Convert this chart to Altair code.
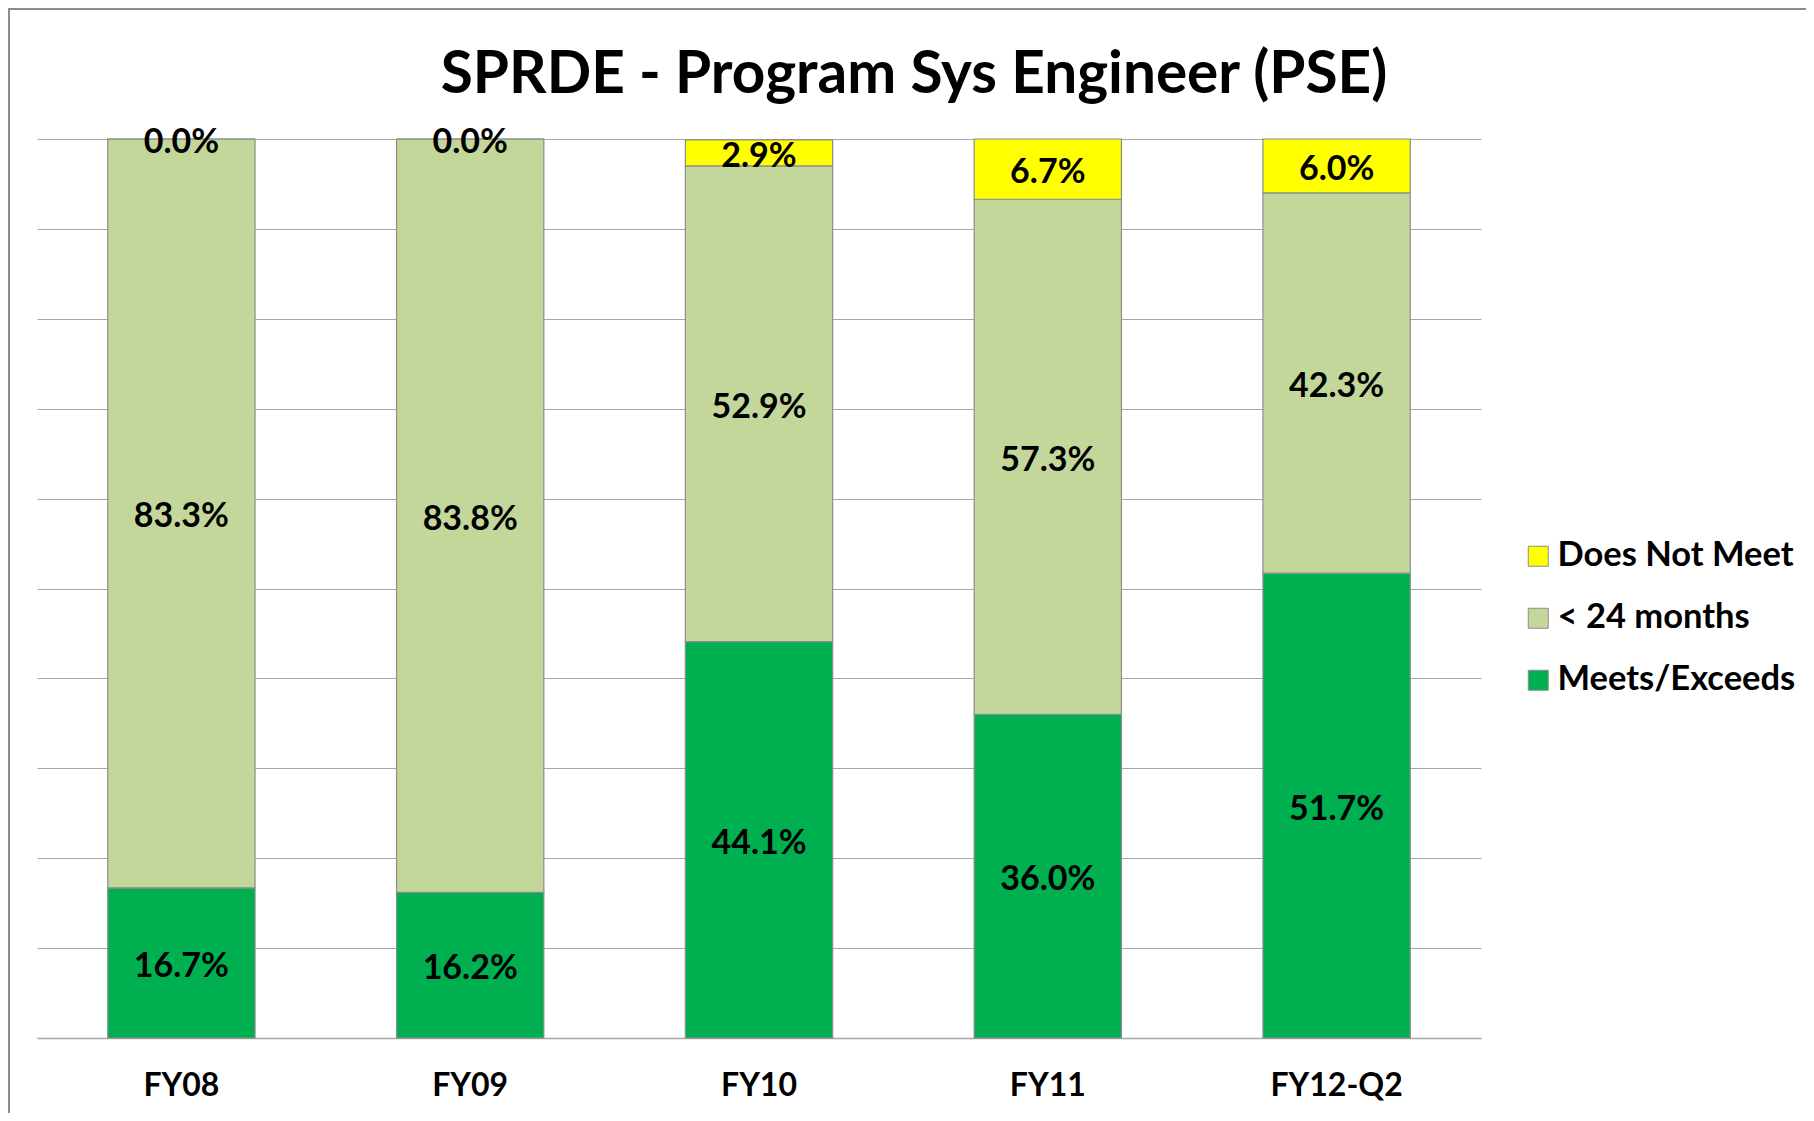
import altair as alt
import pandas as pd

years = ["FY08", "FY09", "FY10", "FY11", "FY12-Q2"]
meets = [16.7, 16.2, 44.1, 36.0, 51.7]
under24 = [83.3, 83.8, 52.9, 57.3, 42.3]
not_meet = [0.0, 0.0, 2.9, 6.7, 6.0]
series = ["Meets/Exceeds", "< 24 months", "Does Not Meet"]
legend_order = ["Does Not Meet", "< 24 months", "Meets/Exceeds"]
colors = ["#FFFF00", "#C4D79B", "#00B050"]
grid_values = [0, 10, 20, 30, 40, 50, 60, 70, 80, 90, 100]

rows = []
for i, y in enumerate(years):
    for k, (name, vals) in enumerate(zip(series, [meets, under24, not_meet])):
        rows.append({"year": y, "series": name, "value": vals[i], "order": k,
                     "label": f"{vals[i]:.1f}%"})
df = pd.DataFrame(rows)

FONT = "Lato"
W, H = 1444, 899

base = alt.Chart(df).transform_stack(
    stack="value", groupby=["year"], as_=["v0", "v1"],
    sort=[alt.SortField("order", order="ascending")]
).transform_calculate(mid="(datum.v0 + datum.v1) / 2")

xenc = alt.X("year:N", sort=years,
             scale=alt.Scale(paddingInner=0.49, paddingOuter=0.245),
             axis=alt.Axis(title=None, labelAngle=0, labelFont=FONT, labelFontSize=32,
                           labelFontWeight="bold", labelColor="#000000", labelPadding=32,
                           ticks=False, grid=False, domainColor="#a6a6a6", domainWidth=1.5))

yscale = alt.Scale(domain=[0, 100], nice=False)
yaxis = alt.Axis(title=None, labels=False, ticks=False, domain=False,
                 values=grid_values, gridColor="#a6a6a6", gridWidth=1.2)

bars = base.mark_bar(stroke="#8c8c8c", strokeWidth=1.2).encode(
    x=xenc,
    y=alt.Y("v0:Q", scale=yscale, axis=yaxis),
    y2="v1:Q",
    color=alt.Color("series:N",
                    scale=alt.Scale(domain=legend_order, range=colors),
                    legend=alt.Legend(title=None, orient="none", legendX=1484, legendY=400,
                                      labelFont=FONT, labelFontSize=34.5, labelFontWeight="bold",
                                      labelColor="#000000", labelLimit=500,
                                      symbolType="square", symbolSize=400,
                                      symbolStrokeColor="#8c8c8c", symbolStrokeWidth=1,
                                      labelOffset=2, rowPadding=27, padding=0)),
)

labels = base.mark_text(font=FONT, fontSize=34, fontWeight="bold", color="#000000",
                        baseline="middle", dy=4).encode(
    x=alt.X("year:N", sort=years),
    y=alt.Y("mid:Q", scale=yscale, axis=yaxis),
    text="label:N",
)

frame = alt.Chart(df).mark_rect(fill=None, stroke="#8c8c8c", strokeWidth=2).encode(
    x=alt.value(-28), x2=alt.value(W + 600),
    y=alt.value(-130), y2=alt.value(H + 400),
)

chart = alt.layer(frame, bars, labels).properties(
    width=W, height=H,
    background="#ffffff",
    autosize=alt.AutoSizeParams(type="none"),
    padding={"left": 29, "top": 131, "right": 325, "bottom": 75},
    title=alt.TitleParams("SPRDE - Program Sys Engineer (PSE)", font=FONT, fontSize=58.5,
                          fontWeight="bold", color="#000000", anchor="middle", dx=155,
                          offset=-143, baseline="alphabetic"),
).configure_view(strokeWidth=0, stroke="transparent")

chart.save("out.html", embed_options={"renderer": "svg", "actions": False})
